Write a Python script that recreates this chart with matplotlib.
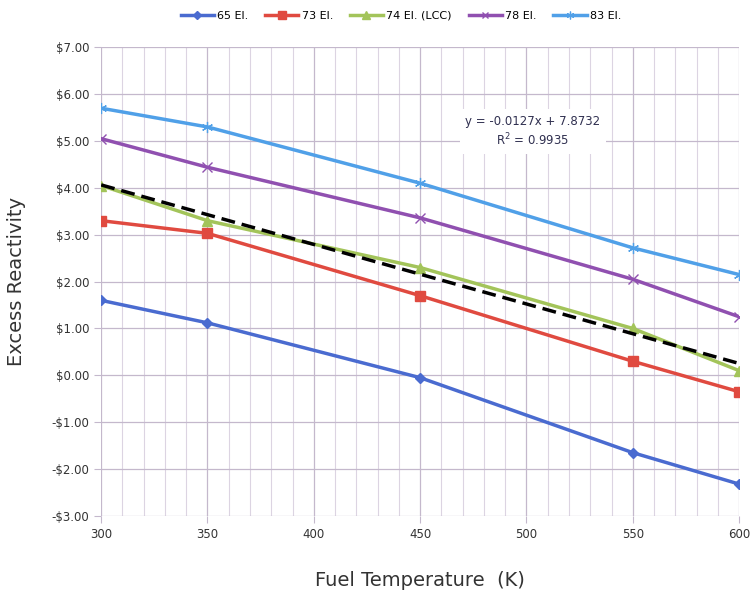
import numpy as np
import matplotlib.pyplot as plt
from matplotlib.ticker import FuncFormatter, MultipleLocator

# Fuel temperature (K)
temps = [300, 350, 450, 550, 600]

# Excess reactivity ($) per core loading
el65 = [1.60, 1.12, -0.05, -1.65, -2.32]
el73 = [3.30, 3.03, 1.70, 0.30, -0.35]
el74 = [4.05, 3.30, 2.30, 1.00, 0.10]
el78 = [5.05, 4.44, 3.36, 2.05, 1.25]
el83 = [5.70, 5.30, 4.10, 2.72, 2.15]

# linear trend from the chart label
fit_slope = -0.0127
fit_intercept = 7.8732
fit_r2 = 0.9935

fig = plt.figure(figsize=(7.55, 5.91), dpi=100)
ax = fig.add_axes([0.134, 0.127, 0.845, 0.793])

ax.plot(temps, el65, color='#4a6bd0', lw=2.5, marker='D', ms=5.5, label='65 El.')
ax.plot(temps, el73, color='#e04a40', lw=2.5, marker='s', ms=7.5, label='73 El.')
ax.plot(temps, el74, color='#a3c45a', lw=2.5, marker='^', ms=7.5, label='74 El. (LCC)')
ax.plot(temps, el78, color='#9050b0', lw=2.5, marker='x', ms=7, mew=1.0, label='78 El.')
ax.plot(temps, el83, color='#50a0e8', lw=2.5, marker=(6, 2, 0), ms=8, mew=0.9, label='83 El.')

fx = np.array([temps[0], temps[-1]])
ax.plot(fx, fit_slope * fx + fit_intercept, color='black', lw=2.5, ls=(0, (4, 2)))

ax.text(503, 5.2, 'y = %.4fx + %.4f\nR$^2$ = %.4f' % (fit_slope, fit_intercept, fit_r2),
        ha='center', va='center', fontsize=8.5, color='#303050', linespacing=1.3,
        bbox=dict(facecolor='white', edgecolor='none', pad=4))

ax.set_xlim(300, 600)
ax.set_ylim(-3, 7)
ax.xaxis.set_major_locator(MultipleLocator(50))
ax.xaxis.set_minor_locator(MultipleLocator(10))
ax.yaxis.set_major_locator(MultipleLocator(1))


def money(v, pos):
    return ('-$%.2f' % abs(v)) if v < -1e-9 else ('$%.2f' % abs(v))


ax.yaxis.set_major_formatter(FuncFormatter(money))
ax.grid(which='major', color='#c4b8cc', lw=0.9)
ax.grid(which='minor', axis='x', color='#dcd4e2', lw=0.8)
ax.tick_params(which='major', direction='out', length=5, color='#c4b8cc',
               labelsize=8.5, labelcolor='#333333')
ax.tick_params(which='minor', length=0)
for s in ax.spines.values():
    s.set_visible(False)
ax.set_axisbelow(True)

ax.set_ylabel('Excess Reactivity', fontsize=14, color='#333333', labelpad=18)
ax.set_xlabel('Fuel Temperature  (K)', fontsize=14, color='#333333', labelpad=22)

ax.legend(loc='lower center', bbox_to_anchor=(0.47, 1.035), ncol=5, frameon=False,
          fontsize=8, handlelength=3, columnspacing=1.5, handletextpad=0.3,
          markerscale=0.7)

fig.savefig('out.png', dpi=100)
